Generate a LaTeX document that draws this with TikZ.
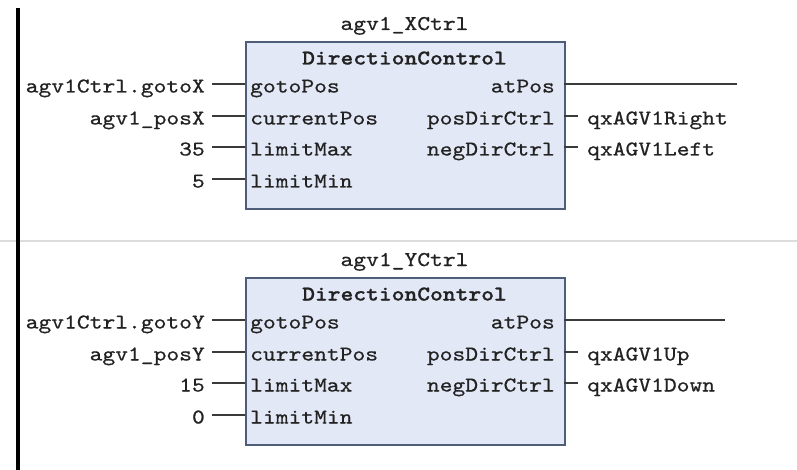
\documentclass[tikz,border=0pt]{standalone}
\usepackage{fontspec}
\newfontfamily\plcmono{lmmono10-regular.otf}[FakeStretch=1.16, FakeBold=0.6]
\newfontfamily\plcmonobold{lmmonolt10-bold.otf}[FakeStretch=1.16, FakeBold=0.9]
\definecolor{txt}{HTML}{222222}
\definecolor{wirec}{HTML}{3A3A3A}
\definecolor{fbedge}{HTML}{4D5D7A}
\definecolor{fbfill}{HTML}{E2E8F6}
\definecolor{sepc}{HTML}{DCDCDC}

% One DirectionControl function block with its wiring.
% #1 prefix, #2 instance name, #3-#6 input arguments,
% #7-#8 output variables, #9 x of the atPos wire end
\newcommand\dcblock[9]{%
  \node[fb] (#1box) at (245,41) {};
  \node[lbl] (#1title) at (404.5,21.5) {#2};
  \node[lbl, font=\plcmonobold\fontsize{21}{24}\selectfont] (#1type) at (404.5,56) {DirectionControl};
  % inputs
  \node[pinl] (#1in1) at (245,84)  {gotoPos};
  \node[pinl] (#1in2) at (245,116) {currentPos};
  \node[pinl] (#1in3) at (245,147) {limitMax};
  \node[pinl] (#1in4) at (245,179) {limitMin};
  \node[argl] (#1a1) at (212,84)  {#3};
  \node[argl] (#1a2) at (212,116) {#4};
  \node[argl] (#1a3) at (212,147) {#5};
  \node[argl] (#1a4) at (212,179) {#6};
  \draw[wire] (#1a1.east) -- (#1in1.west);
  \draw[wire] (#1a2.east) -- (#1in2.west);
  \draw[wire] (#1a3.east) -- (#1in3.west);
  \draw[wire] (#1a4.east) -- (#1in4.west);
  % outputs
  \node[pinr] (#1out0) at (564,84)  {atPos};
  \node[pinr] (#1out1) at (564,116) {posDirCtrl};
  \node[pinr] (#1out2) at (564,147) {negDirCtrl};
  \coordinate (#1end) at (#9,84);
  \node[res] (#1r1) at (578,116) {#7};
  \node[res] (#1r2) at (578,147) {#8};
  \draw[wire] (#1out0.east) -- (#1end);
  \draw[wire] (#1out1.east) -- (#1r1.west);
  \draw[wire] (#1out2.east) -- (#1r2.west);
}

\begin{document}
\begin{tikzpicture}[x=1pt, y=-1pt,
  every node/.style={font=\plcmono\fontsize{21}{24}\selectfont, text=txt},
  lbl/.style={text height=17pt, text depth=0pt, inner ysep=0pt, inner xsep=0pt},
  fb/.style={draw=fbedge, line width=2pt, fill=fbfill, rectangle,
    minimum width=319pt, minimum height=167pt, inner sep=0pt, anchor=north west},
  pinl/.style={lbl, anchor=west, inner xsep=5pt},
  pinr/.style={lbl, anchor=east, inner xsep=9pt},
  argl/.style={lbl, anchor=east, inner xsep=7pt},
  res/.style={lbl, anchor=west, inner xsep=9pt},
  wire/.style={draw=wirec, line width=1.5pt},
  sepline/.style={draw=sepc, line width=2pt},
  rail/.style={draw=black, line width=3.5pt}]
\useasboundingbox (0,0) rectangle (797,470);
\fill[white] (0,0) rectangle (797,470);

% network separator and left power rail
\draw[sepline] (0,241.5) -- (797,241.5);
\draw[rail] (18,8) -- (18,470);

\dcblock{x}{agv1\_XCtrl}{agv1Ctrl.gotoX}{agv1\_posX}{35}{5}{qxAGV1Right}{qxAGV1Left}{737}

\begin{scope}[shift={(0,236)}]
\dcblock{y}{agv1\_YCtrl}{agv1Ctrl.gotoY}{agv1\_posY}{15}{0}{qxAGV1Up}{qxAGV1Down}{725}
\end{scope}
\end{tikzpicture}
\end{document}
